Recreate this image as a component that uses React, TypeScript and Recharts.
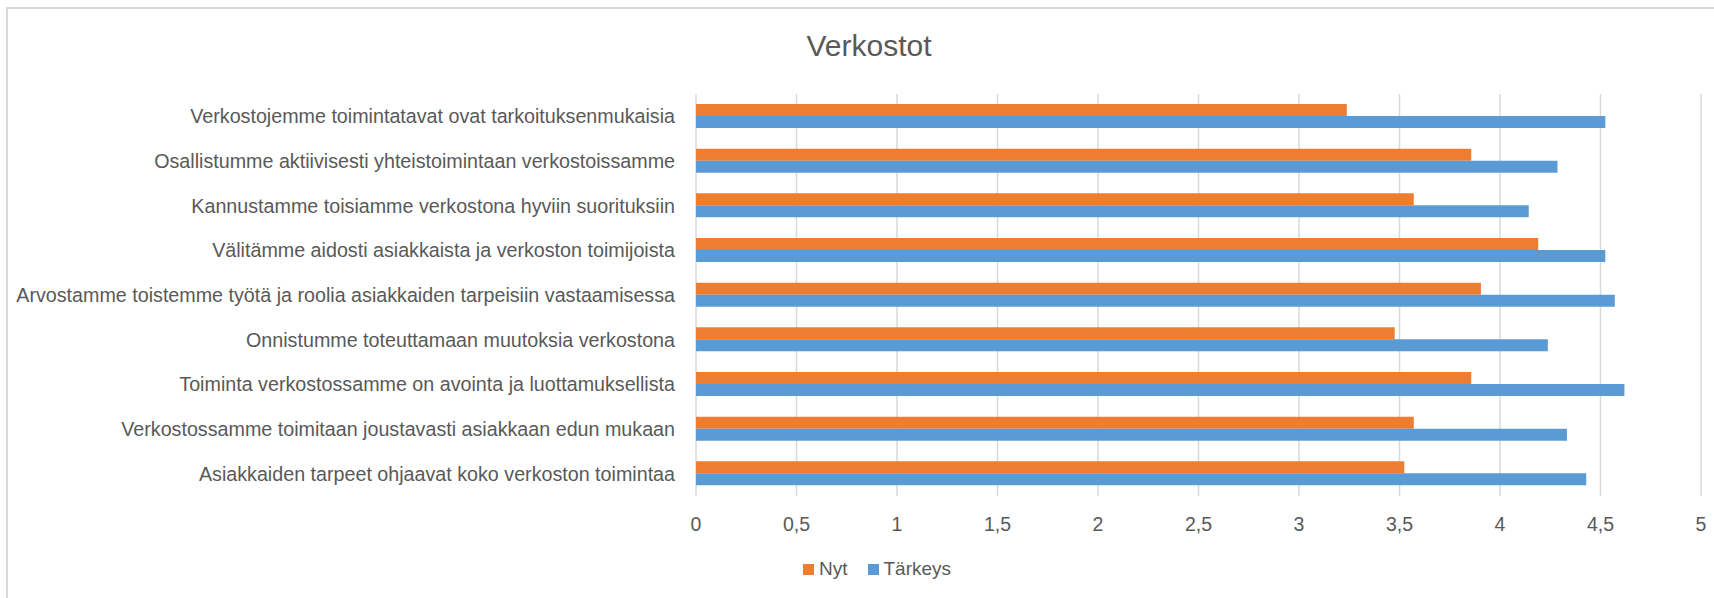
import React from 'react';
import { BarChart, Bar, XAxis, YAxis, CartesianGrid, Legend } from 'recharts';

const CATEGORIES = [
  'Verkostojemme toimintatavat ovat tarkoituksenmukaisia',
  'Osallistumme aktiivisesti yhteistoimintaan verkostoissamme',
  'Kannustamme toisiamme verkostona hyviin suorituksiin',
  'Välitämme aidosti asiakkaista ja verkoston toimijoista',
  'Arvostamme toistemme työtä ja roolia asiakkaiden tarpeisiin vastaamisessa',
  'Onnistumme toteuttamaan muutoksia verkostona',
  'Toiminta verkostossamme on avointa ja luottamuksellista',
  'Verkostossamme toimitaan joustavasti asiakkaan edun mukaan',
  'Asiakkaiden tarpeet ohjaavat koko verkoston toimintaa',
];

const NYT = [3.238, 3.857, 3.571, 4.19, 3.905, 3.476, 3.857, 3.571, 3.524];
const TARKEYS = [4.524, 4.286, 4.143, 4.524, 4.571, 4.238, 4.619, 4.333, 4.429];

const X_TICKS = [0, 0.5, 1, 1.5, 2, 2.5, 3, 3.5, 4, 4.5, 5];

const ORANGE = '#ED7D31';
const BLUE = '#5B9BD5';
const TEXT = '#595959';
const GRID = '#D9D9D9';
const FONT = '"Liberation Sans", Arial, sans-serif';

const data = CATEGORIES.map((label, i) => ({ label, nyt: NYT[i], tarkeys: TARKEYS[i] }));

const renderLegend = (props: any) => {
  const { payload } = props;
  return (
    <div style={{ display: 'flex', alignItems: 'center', fontFamily: FONT, fontSize: 19, color: TEXT }}>
      {(payload || []).map((entry: any) => (
        <span key={entry.value} style={{ display: 'flex', alignItems: 'center', marginRight: 20 }}>
          <span style={{ width: 11, height: 11, background: entry.color, marginRight: 5, display: 'inline-block' }} />
          {entry.value}
        </span>
      ))}
    </div>
  );
};

const App: React.FC = () => {
  return (
    <div style={{ position: 'absolute', left: 0, top: 0, width: 1714, height: 598, overflow: 'hidden', background: '#fff' }}>
      <div
        style={{
          position: 'absolute',
          left: 6,
          top: 7,
          width: 1800,
          height: 700,
          border: `2px solid ${GRID}`,
          boxSizing: 'border-box',
        }}
      />
      <div
        style={{
          position: 'absolute',
          left: 869,
          top: 31,
          transform: 'translateX(-50%)',
          fontFamily: FONT,
          fontSize: 30,
          lineHeight: '30px',
          color: TEXT,
          whiteSpace: 'nowrap',
        }}
      >
        Verkostot
      </div>
      <div style={{ position: 'absolute', left: 0, top: 0 }}>
        <BarChart
          width={1714}
          height={598}
          data={data}
          layout="vertical"
          margin={{ top: 94, right: 13, left: 0, bottom: 62 }}
          barGap={0}
          barSize={12}
        >
          <CartesianGrid horizontal={false} stroke={GRID} strokeWidth={1.5} />
          <XAxis
            type="number"
            domain={[0, 5]}
            ticks={X_TICKS}
            interval={0}
            height={40}
            axisLine={false}
            tickLine={false}
            tickSize={0}
            tickMargin={21}
            tick={{ fontSize: 19.5, fill: TEXT, fontFamily: FONT }}
            tickFormatter={(v: number) => String(v).replace('.', ',')}
          />
          <YAxis
            type="category"
            dataKey="label"
            width={696}
            axisLine={false}
            tickLine={false}
            tickSize={0}
            tickMargin={21}
            interval={0}
            tick={{ fontSize: 19.7, fill: TEXT, fontFamily: FONT }}
          />
          <Legend
            layout="horizontal"
            verticalAlign="middle"
            align="center"
            content={renderLegend}
            wrapperStyle={{ left: 803, top: 558, width: 'auto' }}
          />
          <Bar dataKey="nyt" name="Nyt" fill={ORANGE} isAnimationActive={false} />
          <Bar dataKey="tarkeys" name="Tärkeys" fill={BLUE} isAnimationActive={false} />
        </BarChart>
      </div>
    </div>
  );
};

export default App;
